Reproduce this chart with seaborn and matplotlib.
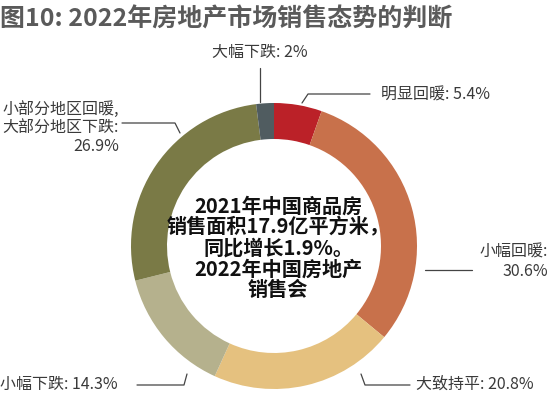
import numpy as np
import matplotlib
matplotlib.use('Agg')
import matplotlib.pyplot as plt
import seaborn as sns

# data (clockwise from 12 o'clock)
categories = ['明显回暖', '小幅回暖', '大致持平', '小幅下跌', '小部分地区回暖,\n大部分地区下跌', '大幅下跌']
shares = [5.4, 30.6, 20.8, 14.3, 26.9, 2.0]
colors = ['#BB2128', '#C8714B', '#E5C17F', '#B5B18D', '#7A7A46', '#505C60']

title = '图10: 2022年房地产市场销售态势的判断'
center_note = '2021年中国商品房\n销售面积17.9亿平方米，\n同比增长1.9%。\n2022年中国房地产\n销售会'

sns.set_theme(style='white')
plt.rcParams['font.family'] = ['Noto Sans CJK SC', 'DejaVu Sans']

fig = plt.figure(figsize=(5.5, 3.94), dpi=100)
ax = fig.add_axes([0, 0, 1, 1])

# work in pixel-like coords, y pointing down
cx, cy, R = 274, 246, 143
ax.pie(shares, colors=colors, center=(cx, cy), radius=R,
       startangle=-90, counterclock=True,
       wedgeprops=dict(width=36, edgecolor='none', linewidth=0))
ax.set_xlim(0, 550)
ax.set_ylim(394, 0)
ax.set_aspect('equal', adjustable='box')
ax.axis('off')

ax.text(0, 19, title, fontsize=18, fontweight='bold', color='#5a5a5a',
        ha='left', va='center')

ax.text(cx + 4, 248, center_note, fontsize=14.5, fontweight='bold', color='#111111',
        ha='center', va='center', linespacing=1.0, multialignment='center')

lab = {c: f'{c}: {v:g}%' for c, v in zip(categories, shares)}
tc = '#3a3a3a'
fs = 11.5
fw = 'light'
lc = '#444444'
lw = 0.9

# 大幅下跌
ax.text(260, 52, lab['大幅下跌'], fontsize=fs, fontweight=fw, color=tc, ha='center', va='center')
ax.plot([260, 260], [68, 102], color=lc, lw=lw)
# 明显回暖
ax.text(381, 95, lab['明显回暖'], fontsize=fs, fontweight=fw, color=tc, ha='left', va='center')
ax.plot([302, 308, 370], [103, 94, 94], color=lc, lw=lw)
# 小幅回暖
ax.text(548, 262, f'{categories[1]}:\n{shares[1]:g}%', fontsize=fs, fontweight=fw, color=tc,
        ha='right', va='center', multialignment='right', linespacing=1.15)
ax.plot([425, 472], [270, 270], color=lc, lw=lw)
# 大致持平
ax.text(416, 384, lab['大致持平'], fontsize=fs, fontweight=fw, color=tc, ha='left', va='center')
ax.plot([361, 365, 410], [374, 385, 385], color=lc, lw=lw)
# 小幅下跌
ax.text(0, 384, lab['小幅下跌'], fontsize=fs, fontweight=fw, color=tc, ha='left', va='center')
ax.plot([137, 184, 187], [385, 385, 374], color=lc, lw=lw)
# 小部分地区回暖, 大部分地区下跌
ax.text(119, 128, f'{categories[4]}:\n{shares[4]:g}%', fontsize=fs, fontweight=fw, color=tc,
        ha='right', va='center', multialignment='right', linespacing=1.15)
ax.plot([122, 175, 180], [123, 123, 133], color=lc, lw=lw)

fig.savefig('out.png', dpi=100, facecolor='white')
